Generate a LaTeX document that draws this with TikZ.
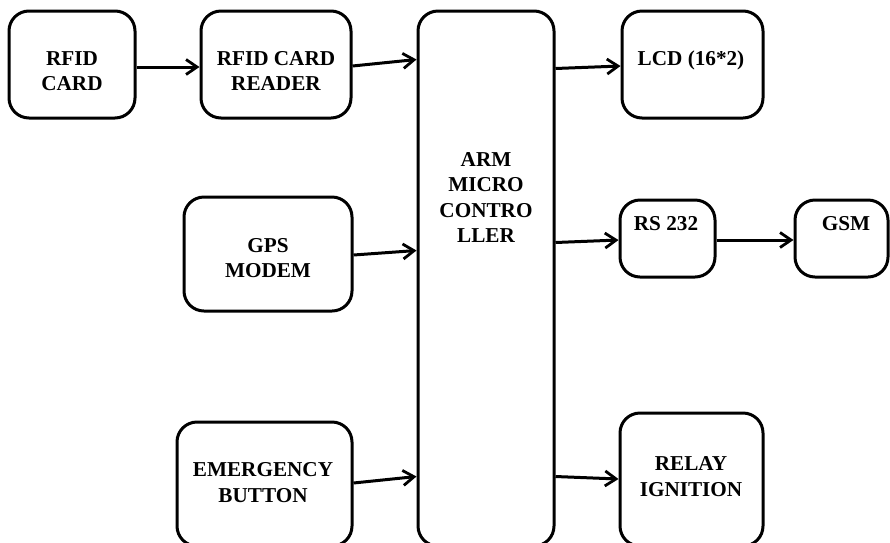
\documentclass[tikz,border=0pt]{standalone}
\usepackage{fontspec}
\setmainfont{Liberation Serif}
\usetikzlibrary{arrows.meta,calc}
\begin{document}
\begin{tikzpicture}[x=1pt,y=-1pt,
  blk/.style={draw=black,line width=3pt,rounded corners=20pt,inner sep=0pt,fill=white},
  lbl/.style={align=center,font=\fontsize{21.2}{25.5}\selectfont\bfseries,inner sep=0pt,text=black},
  conn/.style={line width=3pt,-{Straight Barb[length=11pt,width=15pt,line width=2.8pt]}}]
\useasboundingbox (0,0) rectangle (890,542);
\clip (0,0) rectangle (890,542);
% boxes
\node[blk,minimum width=126pt,minimum height=107pt] (rfid)   at (72,64.5)   {};
\node[blk,minimum width=150pt,minimum height=107pt] (reader) at (276,64.5)  {};
\node[blk,minimum width=136pt,minimum height=535pt] (arm)    at (486,278.5) {};
\node[blk,minimum width=141pt,minimum height=107pt] (lcd)    at (692.5,64.5){};
\node[blk,minimum width=95pt,minimum height=77pt]   (rs)     at (667.5,238.5){};
\node[blk,minimum width=93pt,minimum height=77pt]   (gsm)    at (841.5,238.5){};
\node[blk,minimum width=168pt,minimum height=114pt] (gps)    at (268,254)   {};
\node[blk,minimum width=175pt,minimum height=124pt] (emerg)  at (264.5,484) {};
\node[blk,minimum width=143pt,minimum height=133pt] (relay)  at (691.5,479.5){};
% labels
\node[lbl] (rfidt)   at (72,71)    {RFID\\CARD};
\node[lbl] (readert) at (276,71)   {RFID CARD\\READER};
\node[lbl] (armt)    at (486,197.5){ARM\\MICRO\\CONTRO\\LLER};
\node[lbl] (lcdt)    at (691,60)   {LCD (16*2)};
\node[lbl] (rst)     at (666,224)  {RS 232};
\node[lbl] (gsmt)    at (846,224)  {GSM};
\node[lbl] (gpst)    at (268,258)  {GPS\\MODEM};
\node[lbl] (emergt)  at (263,482.5){EMERGENCY\\BUTTON};
\node[lbl] (relayt)  at (691,476.5){RELAY\\IGNITION};
% connectors
\draw[conn] ($(rfid.east)+(0,2.5)$) -- ($(reader.west)+(0,2.5)$);
\draw[conn] ($(reader.east)+(0,1.5)$) -- ($(arm.north west)+(0,50)$);
\draw[conn] ($(gps.east)+(0,1)$) -- ($(arm.north west)+(0,241)$);
\draw[conn] ($(emerg.east)+(0,-1)$) -- ($(arm.north west)+(0,467)$);
\draw[conn] ($(arm.north east)+(0,59)$) -- ($(lcd.west)+(0,1.5)$);
\draw[conn] ($(arm.north east)+(0,233)$) -- ($(rs.west)+(0,1.5)$);
\draw[conn] ($(rs.east)+(0,1.5)$) -- ($(gsm.west)+(0,1.5)$);
\draw[conn] ($(arm.north east)+(0,467)$) -- ($(relay.west)+(0,-0.5)$);
\end{tikzpicture}
\end{document}
